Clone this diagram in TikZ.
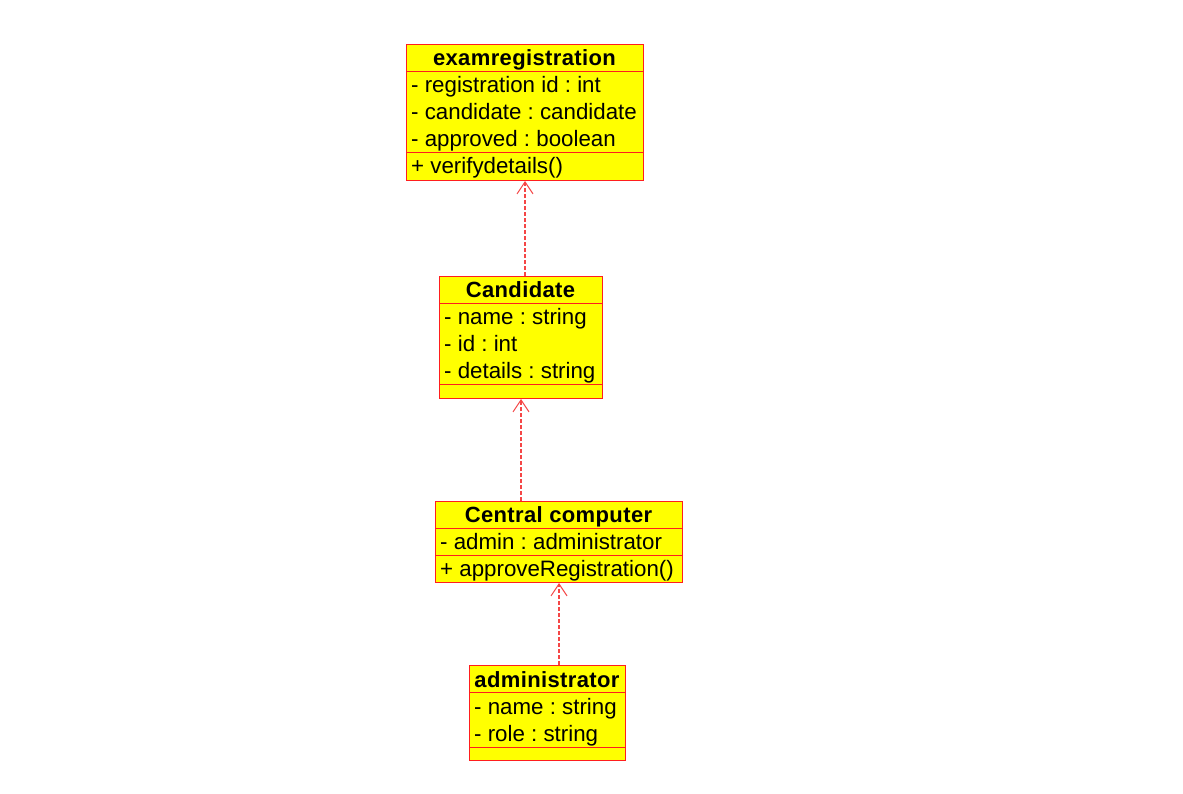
\documentclass[tikz,border=0pt]{standalone}
\usepackage{fontspec}
\setmainfont{Liberation Sans}
\newfontfamily\titlefont[LetterSpace=1.7]{Liberation Sans}
\usetikzlibrary{arrows.meta}
\definecolor{umlred}{RGB}{255,30,30}
\definecolor{deplinered}{RGB}{245,70,70}
\definecolor{umlyellow}{RGB}{255,255,0}
\frenchspacing
\begin{document}
\begin{tikzpicture}[x=1pt,y=-1pt,
  classbox/.style={draw=umlred, fill=umlyellow, line width=1pt, rectangle, anchor=north west, inner sep=0pt},
  sepline/.style={draw=umlred, line width=1pt},
  ctitle/.style={font=\titlefont\fontsize{22}{22}\selectfont\bfseries, anchor=base, inner sep=0pt},
  cattr/.style={font=\frenchspacing\fontsize{22.3}{22}\selectfont, anchor=base west, inner sep=0pt},
  dep/.style={draw=deplinered, line width=1.1pt, dash pattern=on 4pt off 2pt, -{Straight Barb[length=12pt,width=16pt,line width=1pt]}}
]
\useasboundingbox[fill=white] (0,0) rectangle (1183,793);

% examregistration
\node[classbox, minimum width=237pt, minimum height=136pt] (exam) at (406,44) {};
\draw[sepline] (406,71) -- (643,71);
\draw[sepline] (406,152) -- (643,152);
\node[ctitle] (examT) at (524.5,65) {examregistration};
\node[cattr] (examA1) at (411,92) {- registration id : int};
\node[cattr] (examA2) at (411,119) {- candidate : candidate};
\node[cattr] (examA3) at (411,146) {- approved : boolean};
\node[cattr] (examM1) at (411,173) {+ verifydetails()};

% Candidate
\node[classbox, minimum width=163pt, minimum height=122pt] (cand) at (439,276) {};
\draw[sepline] (439,303) -- (602,303);
\draw[sepline] (439,384) -- (602,384);
\node[ctitle] (candT) at (520.5,297) {Candidate};
\node[cattr] (candA1) at (444,324) {- name : string};
\node[cattr] (candA2) at (444,351) {- id : int};
\node[cattr] (candA3) at (444,378) {- details : string};

% Central computer
\node[classbox, minimum width=247pt, minimum height=81pt] (cc) at (435,501) {};
\draw[sepline] (435,528) -- (682,528);
\draw[sepline] (435,555) -- (682,555);
\node[ctitle] (ccT) at (558.5,522) {Central computer};
\node[cattr] (ccA1) at (440,549) {- admin : administrator};
\node[cattr] (ccM1) at (440,576) {+ approveRegistration()};

% administrator
\node[classbox, minimum width=156pt, minimum height=95pt] (adm) at (469,665) {};
\draw[sepline] (469,692) -- (625,692);
\draw[sepline] (469,747) -- (625,747);
\node[ctitle] (admT) at (547,687) {administrator};
\node[cattr] (admA1) at (474,714) {- name : string};
\node[cattr] (admA2) at (474,741) {- role : string};

% dependencies
\draw[dep] (cand.north -| exam.south) -- (exam.south);
\draw[dep] (cc.north -| cand.south) -- (cand.south);
\draw[dep] (adm.north -| cc.south) -- (cc.south);
\end{tikzpicture}
\end{document}
